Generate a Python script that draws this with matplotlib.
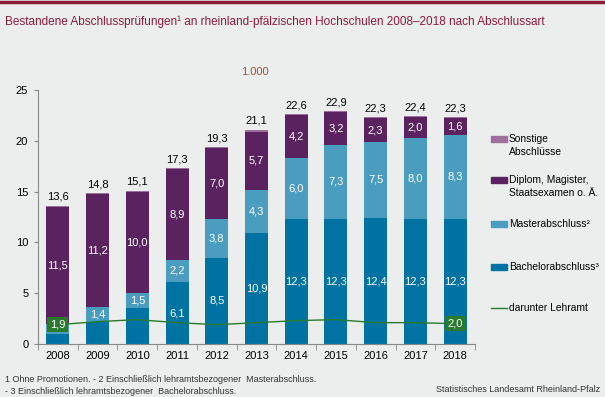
import matplotlib.pyplot as plt
import matplotlib.patches as mpatches
import matplotlib.lines as mlines
import numpy as np

plt.rcParams['font.family'] = ['Liberation Sans', 'DejaVu Sans']

jahre = ['2008', '2009', '2010', '2011', '2012', '2013', '2014', '2015', '2016', '2017', '2018']
bachelor = [1.0, 2.2, 3.5, 6.1, 8.5, 10.9, 12.3, 12.3, 12.4, 12.3, 12.3]
master = [1.0, 1.4, 1.5, 2.2, 3.8, 4.3, 6.0, 7.3, 7.5, 8.0, 8.3]
diplom = [11.5, 11.2, 10.0, 8.9, 7.0, 5.7, 4.2, 3.2, 2.3, 2.0, 1.6]
sonstige = [0.1, 0.1, 0.1, 0.1, 0.1, 0.2, 0.1, 0.1, 0.1, 0.1, 0.1]
gesamt = [13.6, 14.8, 15.1, 17.3, 19.3, 21.1, 22.6, 22.9, 22.3, 22.4, 22.3]
lehramt = [1.9, 2.2, 2.4, 2.1, 1.9, 2.1, 2.3, 2.4, 2.1, 2.1, 2.0]

# which segment values get a printed label
bachelor_lbl = [None, None, None, '6,1', '8,5', '10,9', '12,3', '12,3', '12,4', '12,3', '12,3']
master_lbl = [None, '1,4', '1,5', '2,2', '3,8', '4,3', '6,0', '7,3', '7,5', '8,0', '8,3']
diplom_lbl = ['11,5', '11,2', '10,0', '8,9', '7,0', '5,7', '4,2', '3,2', '2,3', '2,0', '1,6']

c_bach = '#0073a3'
c_mast = '#4b9dc0'
c_dipl = '#5a2360'
c_sons = '#9c6f9e'
c_lehr = '#2a7a2e'
bg = '#eceeee'

fig = plt.figure(figsize=(6.05, 3.97), dpi=100, facecolor=bg)
ax = fig.add_axes([38 / 605, 1 - 344 / 397, (475 - 38) / 605, (344 - 90) / 397])
ax.set_facecolor(bg)

x = np.arange(len(jahre))
w = 0.58
b1 = np.array(bachelor)
b2 = b1 + np.array(master)
b3 = b2 + np.array(diplom)
ax.bar(x, bachelor, w, color=c_bach, zorder=2)
ax.bar(x, master, w, bottom=b1, color=c_mast, zorder=2)
ax.bar(x, diplom, w, bottom=b2, color=c_dipl, zorder=2)
ax.bar(x, sonstige, w, bottom=b3, color=c_sons, zorder=2)
ax.plot(x, lehramt, color=c_lehr, lw=1.0, zorder=3)

fs = 8
for i in x:
    if bachelor_lbl[i]:
        ax.text(i, bachelor[i] / 2, bachelor_lbl[i], ha='center', va='center', color='white', fontsize=fs, zorder=4)
    if master_lbl[i]:
        ax.text(i, b1[i] + master[i] / 2, master_lbl[i], ha='center', va='center', color='white', fontsize=fs, zorder=4)
    ax.text(i, b2[i] + diplom[i] / 2, diplom_lbl[i], ha='center', va='center', color='white', fontsize=fs, zorder=4)
    ax.text(i, gesamt[i] + 0.4, f'{gesamt[i]:.1f}'.replace('.', ','), ha='center', va='bottom', color='black', fontsize=fs)

for i in (0, len(jahre) - 1):
    ax.text(i, lehramt[i], f'{lehramt[i]:.1f}'.replace('.', ','), ha='center', va='center', color='white', fontsize=fs, zorder=5,
            bbox=dict(boxstyle='square,pad=0.25', fc=c_lehr, ec='none'))

ax.set_xlim(-0.5, len(jahre) - 0.5)
ax.set_ylim(0, 25)
ax.set_yticks([0, 5, 10, 15, 20, 25])
ax.set_xticks(x)
ax.set_xticklabels(jahre)
ax.set_xticks(np.arange(-0.5, len(jahre)), minor=True)
ax.tick_params(axis='x', which='major', length=0, labelsize=fs, pad=5)
ax.tick_params(axis='x', which='minor', length=4, direction='out', color='#888888')
ax.tick_params(axis='y', length=3, direction='out', labelsize=fs, color='#888888', pad=4)
for s in ('top', 'right'):
    ax.spines[s].set_visible(False)
for s in ('left', 'bottom'):
    ax.spines[s].set_color('#888888')
    ax.spines[s].set_linewidth(0.8)

# top border and title
fig.add_artist(mlines.Line2D([0, 1], [1 - 1.5 / 397, 1 - 1.5 / 397], color='#8c1b38', lw=2.5))
fig.text(5 / 605, 1 - 22 / 397, 'Bestandene Abschlussprüfungen¹ an rheinland-pfälzischen Hochschulen 2008–2018 nach Abschlussart',
         color='#8c1b38', fontsize=8.5, va='center')
fig.text(255 / 605, 1 - 72 / 397, '1.000', color='#a0522d', fontsize=fs, ha='center', va='center')

# legend
lfs = 7.4
leg = [(c_sons, 139, 'Sonstige\nAbschlüsse'),
       (c_dipl, 180, 'Diplom, Magister,\nStaatsexamen o. Ä.'),
       (c_mast, 224, 'Masterabschluss²'),
       (c_bach, 267, 'Bachelorabschluss³')]
for col, yy, txt in leg:
    fig.add_artist(mpatches.Rectangle((491 / 605, 1 - (yy + 3) / 397), 16 / 605, 6 / 397, color=col))
    fig.text(509 / 605, 1 - (yy - 5) / 397, txt, fontsize=lfs, va='top', linespacing=1.35)
fig.add_artist(mlines.Line2D([491 / 605, 507 / 605], [1 - 308 / 397, 1 - 308 / 397], color=c_lehr, lw=1.0))
fig.text(509 / 605, 1 - 308 / 397, 'darunter Lehramt', fontsize=lfs, va='center')

# footnotes
fig.text(5 / 605, 1 - 380 / 397, '1 Ohne Promotionen. - 2 Einschließlich lehramtsbezogener  Masterabschluss.',
         fontsize=6.5, va='center', color='#333333')
fig.text(5 / 605, 1 - 391 / 397, '- 3 Einschließlich lehramtsbezogener  Bachelorabschluss.',
         fontsize=6.5, va='center', color='#333333')
fig.text(600 / 605, 1 - 389 / 397, 'Statistisches Landesamt Rheinland-Pfalz',
         fontsize=6.5, va='center', ha='right', color='#333333')

fig.savefig('out.png', dpi=100, facecolor=bg)
